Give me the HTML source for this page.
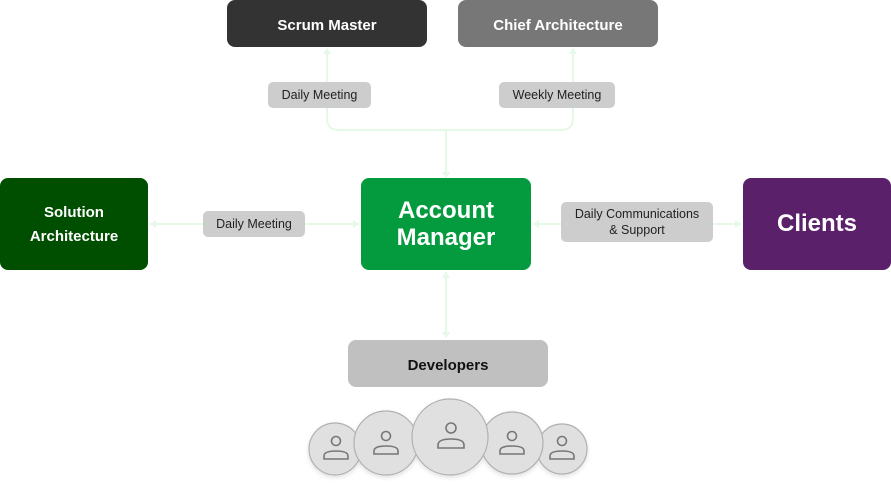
<!DOCTYPE html>
<html><head><style>
body{margin:0;width:891px;height:484px;background:#fff;position:relative;overflow:hidden;font-family:"Liberation Sans",sans-serif}
.b{position:absolute;display:flex;align-items:center;justify-content:center;text-align:center;color:#fff;font-weight:bold;border-radius:8px;box-sizing:border-box}
.l{position:absolute;display:flex;align-items:center;justify-content:center;text-align:center;background:#cdcdcd;color:#222;font-size:12.5px;border-radius:5px;line-height:16px}
svg{position:absolute;left:0;top:0}
</style></head><body>
<svg width="891" height="484">
<defs><filter id="s" x="-20%" y="-20%" width="140%" height="150%"><feDropShadow dx="0" dy="2" stdDeviation="2" flood-color="#000" flood-opacity="0.12"/></filter></defs>
<g stroke="#e6f8e6" stroke-width="2" fill="none">
<path d="M327 50 V118 Q327 130 339 130 H561 Q573 130 573 118 V50"/>
<path d="M446 130 V176"/>
<path d="M446 272 V336"/>
<path d="M150 224 H359"/>
<path d="M533 224 H741"/>
</g>
<g fill="#e6f8e6">
<path d="M327 48 l-4 6 h8z"/><path d="M573 48 l-4 6 h8z"/>
<path d="M446 178 l-4 -6 h8z"/><path d="M446 272 l-4 6 h8z"/><path d="M446 338 l-4 -6 h8z"/>
<path d="M150 224 l6 -4 v8z"/><path d="M359 224 l-6 -4 v8z"/>
<path d="M533 224 l6 -4 v8z"/><path d="M741 224 l-6 -4 v8z"/>
</g>
<g fill="#e0e0e0" stroke="#b0b0b0" stroke-width="1.2" filter="url(#s)">
<circle cx="335" cy="449" r="26"/><circle cx="386" cy="443" r="32"/><circle cx="562" cy="449" r="25"/><circle cx="512" cy="443" r="31"/><circle cx="450" cy="437" r="38"/>
</g>
<g fill="none" stroke="#777" stroke-width="1.6">
<circle cx="336" cy="441" r="4.5"/><path d="M324 459 v-3 q0 -5 12 -5 q12 0 12 5 v3z"/>
<circle cx="386" cy="436" r="4.5"/><path d="M374 454 v-3 q0 -5 12 -5 q12 0 12 5 v3z"/>
<circle cx="451" cy="428" r="5"/><path d="M438 448 v-3 q0 -6 13 -6 q13 0 13 6 v3z"/>
<circle cx="512" cy="436" r="4.5"/><path d="M500 454 v-3 q0 -5 12 -5 q12 0 12 5 v3z"/>
<circle cx="562" cy="441" r="4.5"/><path d="M550 459 v-3 q0 -5 12 -5 q12 0 12 5 v3z"/>
</g>
</svg>
<div class="b" style="left:227px;top:0;width:200px;height:47px;padding-top:3px;background:#333;font-size:15px">Scrum Master</div>
<div class="b" style="left:458px;top:0;width:200px;height:47px;padding-top:3px;background:#777;font-size:15px">Chief Architecture</div>
<div class="l" style="left:268px;top:82px;width:103px;height:26px">Daily Meeting</div>
<div class="l" style="left:499px;top:82px;width:116px;height:26px">Weekly Meeting</div>
<div class="b" style="left:0;top:178px;width:148px;height:92px;padding-top:2px;background:#004f00;font-size:15px;line-height:24px">Solution<br>Architecture</div>
<div class="b" style="left:361px;top:178px;width:170px;height:92px;background:#039b3d;font-size:24px;line-height:27px">Account<br>Manager</div>
<div class="b" style="left:743px;top:178px;width:148px;height:92px;background:#5a206a;font-size:24px">Clients</div>
<div class="l" style="left:203px;top:211px;width:102px;height:26px">Daily Meeting</div>
<div class="l" style="left:561px;top:202px;width:152px;height:40px">Daily Communications<br>&amp; Support</div>
<div class="b" style="left:348px;top:340px;width:200px;height:47px;padding-top:3px;background:#c0c0c0;color:#111;font-size:15px">Developers</div>
</body></html>
